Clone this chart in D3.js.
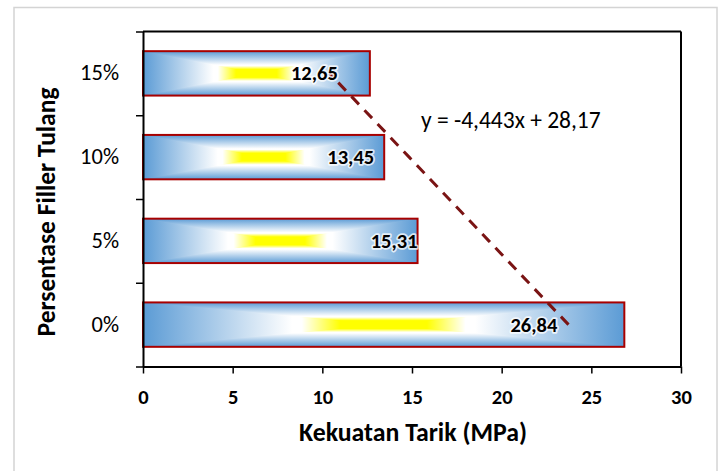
<!DOCTYPE html>
<html><head><meta charset="utf-8">
<script src="https://cdn.jsdelivr.net/npm/d3@7/dist/d3.min.js"></script>
<style>
html,body{margin:0;padding:0;background:#fff;}
svg{display:block;}
text{font-family:Carlito,Calibri,Lato,"Open Sans",sans-serif;}
</style></head>
<body>
<svg id="chart" width="723" height="471"></svg>
<script>
// ---- data ----
const categories = ["0%", "5%", "10%", "15%"];
const values = [26.84, 15.31, 13.45, 12.65];
const valueLabels = ["26,84", "15,31", "13,45", "12,65"];
const xTicks = [0, 5, 10, 15, 20, 25, 30];
const trendSlope = -4.443;
const trendIntercept = 28.17;
const trendLabel = "y = -4,443x + 28,17";
const xTitle = "Kekuatan Tarik (MPa)";
const yTitle = "Persentase Filler Tulang";
const labelNudge = [-67, 0, -10, -32]; // label right edge relative to bar end (px)

// ---- setup ----
const svg = d3.select("#chart");
const L = 143, R = 681, T = 31.5, B = 366.5;
const x = d3.scaleLinear().domain([0, 30]).range([L, R]);
const y = d3.scaleBand().domain(categories).range([B, T]).paddingInner(0.47).paddingOuter(0.235);
const yEdge = d3.scaleLinear().domain([0, categories.length]).range([B, T]);

// outer chart border
svg.append("rect").attr("x", 14).attr("y", 7.5).attr("width", 703).attr("height", 490)
  .attr("fill", "#fff").attr("stroke", "#d4d4d4").attr("stroke-width", 1.5);

// gradients
const defs = svg.append("defs");
const blue = "#5b9bd5";
function addGrad(id, x1, y1, x2, y2, stops) {
  const g = defs.append("linearGradient").attr("id", id)
    .attr("x1", x1).attr("y1", y1).attr("x2", x2).attr("y2", y2);
  stops.forEach(s => g.append("stop").attr("offset", s[0]).attr("stop-color", s[1]));
}
addGrad("hgrad", 0, 0, 1, 0, [
  [0, blue], [0.31, "#ffffff"], [0.33, "#ffffff"], [0.41, "#ffff00"],
  [0.59, "#ffff00"], [0.67, "#ffffff"], [0.69, "#ffffff"], [1, blue]
]);
const halfStops = [[0, blue], [0.62, "#ffffff"], [0.66, "#ffffff"], [0.82, "#ffff00"], [1, "#ffff00"]];
addGrad("vtop", 0, 0, 0, 1, halfStops);
addGrad("vbot", 0, 1, 0, 0, halfStops);

// bars
const bw = y.bandwidth();
const bars = svg.append("g").selectAll("g").data(categories).join("g");
bars.each(function(c, i) {
  const g = d3.select(this);
  const x0 = x(0), x1 = x(values[i]), y0 = y(c), y1 = y0 + bw;
  const cx = (x0 + x1) / 2, cy = (y0 + y1) / 2;
  g.append("rect").attr("x", x0).attr("y", y0).attr("width", x1 - x0).attr("height", bw)
    .attr("fill", "url(#hgrad)");
  g.append("path").attr("d", `M${x0},${y0}L${x1},${y0}L${cx},${cy}Z`).attr("fill", "url(#vtop)");
  g.append("path").attr("d", `M${x0},${y1}L${x1},${y1}L${cx},${cy}Z`).attr("fill", "url(#vbot)");
  g.append("rect").attr("x", x0).attr("y", y0).attr("width", x1 - x0).attr("height", bw)
    .attr("fill", "none").attr("stroke", "#a80000").attr("stroke-width", 2);
});

// axes
const xAxis = svg.append("g").attr("transform", `translate(0,${B})`)
  .call(d3.axisBottom(x).tickValues(xTicks).tickSize(7).tickSizeOuter(0).tickFormat(d3.format("d")));
xAxis.select(".domain").attr("stroke", "#000").attr("stroke-width", 2);
xAxis.selectAll(".tick line").attr("stroke", "#000").attr("stroke-width", 1.5);
xAxis.selectAll(".tick text").attr("y", 37).attr("dy", 0)
  .style("font-size", "20.5px").style("font-weight", "bold").style("font-family", "Carlito,Calibri,Lato,sans-serif").attr("fill", "#000");

const yAxis = svg.append("g").attr("transform", `translate(${L},0)`)
  .call(d3.axisLeft(yEdge).tickValues(d3.range(categories.length + 1)).tickSize(7).tickSizeOuter(0).tickFormat(""));
yAxis.select(".domain").attr("stroke", "#000").attr("stroke-width", 2);
yAxis.selectAll(".tick line").attr("stroke", "#000").attr("stroke-width", 1.5);

// frame top/right
svg.append("line").attr("x1", L).attr("x2", R).attr("y1", T).attr("y2", T).attr("stroke", "#000").attr("stroke-width", 2);
svg.append("line").attr("x1", R).attr("x2", R).attr("y1", T).attr("y2", B).attr("stroke", "#000").attr("stroke-width", 2);

// category labels
svg.append("g").selectAll("text").data(categories).join("text")
  .attr("x", 119).attr("y", c => y(c) + bw / 2 + 7)
  .attr("text-anchor", "end").style("font-size", "22.5px").attr("fill", "#000")
  .text(c => c);

// trendline
const trendPts = categories.map((c, i) => [x(trendSlope * (i + 1) + trendIntercept), y(c) + bw / 2]);
svg.append("path").attr("d", d3.line()(trendPts)).attr("fill", "none")
  .attr("stroke", "#7a1414").attr("stroke-width", 3).attr("stroke-dasharray", "11,8");

// value labels
svg.append("g").selectAll("text").data(categories).join("text")
  .attr("x", (c, i) => x(values[i]) + labelNudge[i])
  .attr("y", c => y(c) + bw / 2 + 7)
  .attr("text-anchor", "end").style("font-size", "20.5px").style("font-weight", "bold")
  .attr("fill", "#000").attr("stroke", "#fff").attr("stroke-width", 3.5).attr("stroke-opacity", 0.75)
  .attr("stroke-linejoin", "round").attr("paint-order", "stroke")
  .text((c, i) => valueLabels[i]);

// trendline equation
svg.append("text").attr("x", 421).attr("y", 128).style("font-size", "23.5px").attr("fill", "#000")
  .text(trendLabel);

// axis titles
svg.append("text").attr("x", 413).attr("y", 441).attr("text-anchor", "middle")
  .style("font-size", "25.8px").style("font-weight", "bold").attr("fill", "#000")
  .text(xTitle);
svg.append("text").attr("transform", `translate(55,${212}) rotate(-90)`).attr("text-anchor", "middle")
  .style("font-size", "25.5px").style("font-weight", "bold").attr("fill", "#000")
  .text(yTitle);
</script>
</body></html>
